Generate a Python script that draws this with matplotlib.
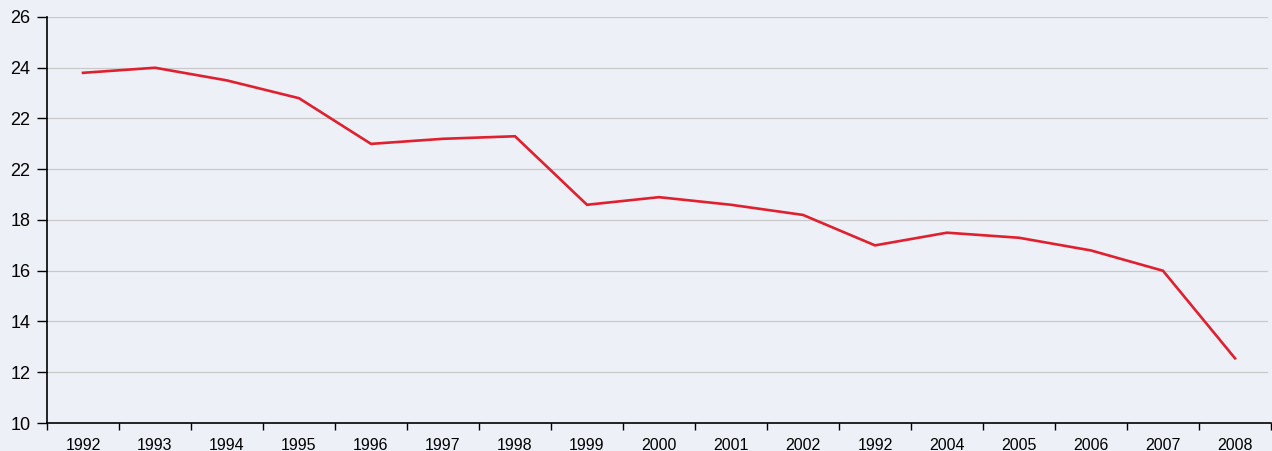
import matplotlib.pyplot as plt
import numpy as np

years = ['1992', '1993', '1994', '1995', '1996', '1997', '1998', '1999', '2000',
         '2001', '2002', '1992', '2004', '2005', '2006', '2007', '2008']
values = [23.8, 24.0, 23.5, 22.8, 21.0, 21.2, 21.3, 18.6, 18.9,
          18.6, 18.2, 17.0, 17.5, 17.3, 16.8, 16.0, 12.55]
y_ticks = [10, 12, 14, 16, 18, 20, 22, 24, 26]
y_labels = ['10', '12', '14', '16', '18', '22', '22', '24', '26']

plt.rcParams['font.family'] = ['Liberation Sans', 'DejaVu Sans']
bg = '#edf0f7'

fig = plt.figure(figsize=(12.72, 4.51), dpi=100, facecolor=bg)
ax = fig.add_axes([47 / 1272, 28 / 451, 1224 / 1272, 406 / 451])
ax.set_facecolor(bg)

x = np.arange(len(years))
ax.plot(x, values, color='#e0202e', linewidth=1.9, solid_joinstyle='miter')

ax.set_xlim(-0.5, len(years) - 0.5)
ax.set_ylim(10, 26)
ax.set_yticks(y_ticks)
ax.set_yticklabels(y_labels, fontsize=13)
for y in y_ticks[1:]:
    ax.axhline(y, color='#c9c9c9', linewidth=0.9, zorder=0, xmax=0.997)

ax.set_xticks(np.arange(len(years) + 1) - 0.5)
ax.set_xticklabels([])
ax.set_xticks(x, minor=True)
ax.set_xticklabels(years, minor=True, fontsize=11.5)
ax.tick_params(axis='x', which='major', length=5, width=1, direction='out')
ax.tick_params(axis='x', which='minor', length=0, pad=11)
ax.tick_params(axis='y', length=7, width=1, direction='out', pad=5)

for s in ['top', 'right']:
    ax.spines[s].set_visible(False)
for s in ['left', 'bottom']:
    ax.spines[s].set_linewidth(1.2)

fig.savefig('out.png', dpi=100, facecolor=bg)
